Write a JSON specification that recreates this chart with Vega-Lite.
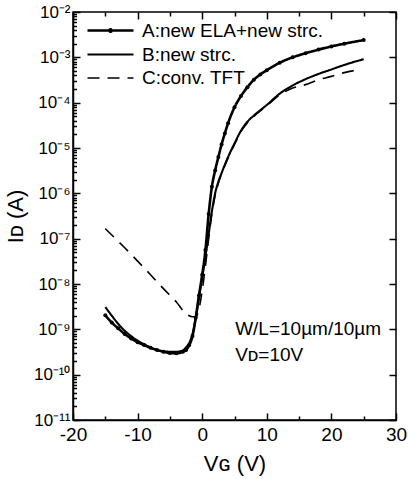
{
  "$schema": "https://vega.github.io/schema/vega-lite/v6.json",
  "width": 323,
  "height": 408,
  "autosize": "none",
  "padding": {"left": 73, "top": 12, "right": 12, "bottom": 59},
  "background": "white",
  "config": {
    "view": {"stroke": "black", "strokeWidth": 1.5},
    "font": "Liberation Sans"
  },
  "data": {
    "values": [
      {"s": "A:new ELA+new strc.", "v": -15, "i": 2.04e-9},
      {"s": "A:new ELA+new strc.", "v": -14, "i": 1.41e-9},
      {"s": "A:new ELA+new strc.", "v": -13, "i": 1.05e-9},
      {"s": "A:new ELA+new strc.", "v": -12, "i": 7.9e-10},
      {"s": "A:new ELA+new strc.", "v": -11, "i": 6.3e-10},
      {"s": "A:new ELA+new strc.", "v": -10, "i": 5.2e-10},
      {"s": "A:new ELA+new strc.", "v": -9, "i": 4.5e-10},
      {"s": "A:new ELA+new strc.", "v": -8, "i": 3.9e-10},
      {"s": "A:new ELA+new strc.", "v": -7, "i": 3.5e-10},
      {"s": "A:new ELA+new strc.", "v": -6, "i": 3.2e-10},
      {"s": "A:new ELA+new strc.", "v": -5, "i": 3.0e-10},
      {"s": "A:new ELA+new strc.", "v": -4, "i": 2.95e-10},
      {"s": "A:new ELA+new strc.", "v": -3, "i": 3.2e-10},
      {"s": "A:new ELA+new strc.", "v": -2.5, "i": 3.5e-10},
      {"s": "A:new ELA+new strc.", "v": -2, "i": 4.5e-10},
      {"s": "A:new ELA+new strc.", "v": -1.5, "i": 7.1e-10},
      {"s": "A:new ELA+new strc.", "v": -1, "i": 1.8e-9},
      {"s": "A:new ELA+new strc.", "v": -0.5, "i": 5.6e-9},
      {"s": "A:new ELA+new strc.", "v": 0, "i": 1.6e-8},
      {"s": "A:new ELA+new strc.", "v": 0.5, "i": 5.6e-8},
      {"s": "A:new ELA+new strc.", "v": 1, "i": 3.5e-7},
      {"s": "A:new ELA+new strc.", "v": 1.5, "i": 1.4e-6},
      {"s": "A:new ELA+new strc.", "v": 2, "i": 3.2e-6},
      {"s": "A:new ELA+new strc.", "v": 2.5, "i": 6.3e-6},
      {"s": "A:new ELA+new strc.", "v": 3, "i": 1.2e-5},
      {"s": "A:new ELA+new strc.", "v": 3.5, "i": 2.1e-5},
      {"s": "A:new ELA+new strc.", "v": 4, "i": 3.5e-5},
      {"s": "A:new ELA+new strc.", "v": 5, "i": 7.9e-5},
      {"s": "A:new ELA+new strc.", "v": 6, "i": 1.4e-4},
      {"s": "A:new ELA+new strc.", "v": 7, "i": 2.2e-4},
      {"s": "A:new ELA+new strc.", "v": 8, "i": 3.2e-4},
      {"s": "A:new ELA+new strc.", "v": 9, "i": 4.2e-4},
      {"s": "A:new ELA+new strc.", "v": 10, "i": 5.2e-4},
      {"s": "A:new ELA+new strc.", "v": 12, "i": 7.6e-4},
      {"s": "A:new ELA+new strc.", "v": 14, "i": 1.0e-3},
      {"s": "A:new ELA+new strc.", "v": 16, "i": 1.23e-3},
      {"s": "A:new ELA+new strc.", "v": 18, "i": 1.48e-3},
      {"s": "A:new ELA+new strc.", "v": 20, "i": 1.74e-3},
      {"s": "A:new ELA+new strc.", "v": 22, "i": 2.0e-3},
      {"s": "A:new ELA+new strc.", "v": 25, "i": 2.4e-3},
      {"s": "B:new strc.", "v": -15, "i": 3.1e-9},
      {"s": "B:new strc.", "v": -14, "i": 2.0e-9},
      {"s": "B:new strc.", "v": -13, "i": 1.32e-9},
      {"s": "B:new strc.", "v": -12, "i": 9.3e-10},
      {"s": "B:new strc.", "v": -11, "i": 7.1e-10},
      {"s": "B:new strc.", "v": -10, "i": 5.6e-10},
      {"s": "B:new strc.", "v": -9, "i": 4.7e-10},
      {"s": "B:new strc.", "v": -8, "i": 4.0e-10},
      {"s": "B:new strc.", "v": -7, "i": 3.5e-10},
      {"s": "B:new strc.", "v": -6, "i": 3.3e-10},
      {"s": "B:new strc.", "v": -5, "i": 3.2e-10},
      {"s": "B:new strc.", "v": -4, "i": 3.2e-10},
      {"s": "B:new strc.", "v": -3, "i": 3.4e-10},
      {"s": "B:new strc.", "v": -2.5, "i": 4.0e-10},
      {"s": "B:new strc.", "v": -2, "i": 5.0e-10},
      {"s": "B:new strc.", "v": -1.5, "i": 7.9e-10},
      {"s": "B:new strc.", "v": -1, "i": 1.8e-9},
      {"s": "B:new strc.", "v": -0.5, "i": 5.0e-9},
      {"s": "B:new strc.", "v": 0, "i": 1.4e-8},
      {"s": "B:new strc.", "v": 0.5, "i": 4.0e-8},
      {"s": "B:new strc.", "v": 1, "i": 1.26e-7},
      {"s": "B:new strc.", "v": 1.5, "i": 4.0e-7},
      {"s": "B:new strc.", "v": 2, "i": 1.0e-6},
      {"s": "B:new strc.", "v": 2.5, "i": 1.8e-6},
      {"s": "B:new strc.", "v": 3, "i": 2.8e-6},
      {"s": "B:new strc.", "v": 4, "i": 6.3e-6},
      {"s": "B:new strc.", "v": 5, "i": 1.26e-5},
      {"s": "B:new strc.", "v": 6, "i": 2.4e-5},
      {"s": "B:new strc.", "v": 7, "i": 3.8e-5},
      {"s": "B:new strc.", "v": 8, "i": 5.2e-5},
      {"s": "B:new strc.", "v": 10, "i": 8.9e-5},
      {"s": "B:new strc.", "v": 12, "i": 1.58e-4},
      {"s": "B:new strc.", "v": 14, "i": 2.4e-4},
      {"s": "B:new strc.", "v": 16, "i": 3.3e-4},
      {"s": "B:new strc.", "v": 18, "i": 4.3e-4},
      {"s": "B:new strc.", "v": 20, "i": 5.4e-4},
      {"s": "B:new strc.", "v": 22, "i": 6.8e-4},
      {"s": "B:new strc.", "v": 25, "i": 9.1e-4},
      {"s": "C:conv. TFT", "v": -15, "i": 1.66e-7},
      {"s": "C:conv. TFT", "v": -12, "i": 6.3e-8},
      {"s": "C:conv. TFT", "v": -10, "i": 3.2e-8},
      {"s": "C:conv. TFT", "v": -8, "i": 1.6e-8},
      {"s": "C:conv. TFT", "v": -6, "i": 7.9e-9},
      {"s": "C:conv. TFT", "v": -4, "i": 4.0e-9},
      {"s": "C:conv. TFT", "v": -2.5, "i": 2.2e-9},
      {"s": "C:conv. TFT", "v": -1.5, "i": 1.9e-9},
      {"s": "C:conv. TFT", "v": -1, "i": 1.9e-9},
      {"s": "C:conv. TFT", "v": -0.5, "i": 2.8e-9},
      {"s": "C:conv. TFT", "v": 0, "i": 7.1e-9},
      {"s": "C:conv. TFT", "v": 0.5, "i": 2.5e-8},
      {"s": "C:conv. TFT", "v": 1, "i": 1.0e-7},
      {"s": "C:conv. TFT", "v": 1.5, "i": 3.5e-7},
      {"s": "C:conv. TFT", "v": 2, "i": 8.9e-7},
      {"s": "C:conv. TFT", "v": 2.5, "i": 1.66e-6},
      {"s": "C:conv. TFT", "v": 3, "i": 2.7e-6},
      {"s": "C:conv. TFT", "v": 4, "i": 6.0e-6},
      {"s": "C:conv. TFT", "v": 5, "i": 1.2e-5},
      {"s": "C:conv. TFT", "v": 6, "i": 2.3e-5},
      {"s": "C:conv. TFT", "v": 7, "i": 3.6e-5},
      {"s": "C:conv. TFT", "v": 8, "i": 5.0e-5},
      {"s": "C:conv. TFT", "v": 10, "i": 8.5e-5},
      {"s": "C:conv. TFT", "v": 12, "i": 1.48e-4},
      {"s": "C:conv. TFT", "v": 14, "i": 2.1e-4},
      {"s": "C:conv. TFT", "v": 16, "i": 2.5e-4},
      {"s": "C:conv. TFT", "v": 18, "i": 3.2e-4},
      {"s": "C:conv. TFT", "v": 20, "i": 3.8e-4},
      {"s": "C:conv. TFT", "v": 22, "i": 4.6e-4},
      {"s": "C:conv. TFT", "v": 24.5, "i": 5.4e-4}
    ]
  },
  "resolve": {"axis": {"x": "independent", "y": "independent"}},
  "layer": [
    {
      "mark": {"type": "line", "color": "black", "interpolate": "monotone"},
      "encoding": {
        "x": {
          "field": "v", "type": "quantitative",
          "scale": {"domain": [-20, 30], "nice": false, "zero": false},
          "axis": {
            "orient": "bottom",
            "title": "Vɢ (V)",
            "titleFont": "Liberation Sans", "titleFontSize": 22, "titleFontWeight": "normal", "titleColor": "black",
            "titlePadding": 6,
            "values": [-20, -15, -10, -5, 0, 5, 10, 15, 20, 25, 30],
            "labelExpr": "datum.value % 10 == 0 ? '' + datum.value : ''",
            "labelFontSize": 19, "labelColor": "black", "labelPadding": 12, "labelFlush": false, "labelOverlap": false,
            "tickSize": {"condition": {"test": "datum.value % 10 == 0", "value": -7}, "value": -4},
            "tickColor": "black", "tickWidth": 1.5,
            "domainColor": "black", "domainWidth": 1.5, "grid": false
          }
        },
        "y": {
          "field": "i", "type": "quantitative",
          "scale": {"type": "log", "domain": [1e-11, 1e-2], "nice": false},
          "axis": {
            "orient": "left",
            "title": "Iᴅ (A)",
            "titleFont": "Liberation Sans", "titleFontSize": 22, "titleFontWeight": "normal", "titleColor": "black",
            "titlePadding": 6,
            "values": [1e-11,2e-11,3e-11,4e-11,5e-11,6e-11,7e-11,8e-11,9e-11,1e-10,2e-10,3e-10,4e-10,5e-10,6e-10,7e-10,8e-10,9e-10,1e-9,2e-9,3e-9,4e-9,5e-9,6e-9,7e-9,8e-9,9e-9,1e-8,2e-8,3e-8,4e-8,5e-8,6e-8,7e-8,8e-8,9e-8,1e-7,2e-7,3e-7,4e-7,5e-7,6e-7,7e-7,8e-7,9e-7,1e-6,2e-6,3e-6,4e-6,5e-6,6e-6,7e-6,8e-6,9e-6,1e-5,2e-5,3e-5,4e-5,5e-5,6e-5,7e-5,8e-5,9e-5,1e-4,2e-4,3e-4,4e-4,5e-4,6e-4,7e-4,8e-4,9e-4,1e-3,2e-3,3e-3,4e-3,5e-3,6e-3,7e-3,8e-3,9e-3,1e-2],
            "labelExpr": "abs(log(datum.value)/LN10 - round(log(datum.value)/LN10)) < 0.01 ? '10' + ['⁻¹¹','⁻¹⁰','⁻⁹','⁻⁸','⁻⁷','⁻⁶','⁻⁵','⁻⁴','⁻³','⁻²'][round(log(datum.value)/LN10) + 11] : ''",
            "labelFontSize": 17, "labelColor": "black", "labelPadding": 10, "labelFlush": false, "labelOverlap": false,
            "tickSize": {"condition": {"test": "abs(log(datum.value)/LN10 - round(log(datum.value)/LN10)) < 0.01", "value": -7}, "value": -3.5},
            "tickColor": "black", "tickWidth": 1.5,
            "domainColor": "black", "domainWidth": 1.5, "grid": false
          }
        },
        "strokeDash": {
          "field": "s", "type": "nominal",
          "scale": {"domain": ["A:new ELA+new strc.", "B:new strc.", "C:conv. TFT"], "range": [[1, 0], [1, 0], [12, 8]]},
          "legend": {
            "orient": "none", "legendX": 26, "legendY": 7,
            "title": null, "symbolType": "M-2.3,0H2.3", "symbolSize": 400,
            "symbolStrokeColor": "black", "symbolStrokeWidth": 1.6, "symbolFillColor": "black",
            "labelFontSize": 19, "labelColor": "black", "labelOffset": 20, "labelLimit": 400,
            "rowPadding": 2,
            "encode": {
              "symbols": {
                "update": {
                  "shape": {"signal": "datum.value == 'A:new ELA+new strc.' ? 'M-2.3,0H2.3M-0.12,0A0.12,0.12 0 1,0 0.12,0A0.12,0.12 0 1,0 -0.12,0Z' : 'M-2.3,0H2.3'"},
                  "fill": {"value": "black"},
                  "stroke": {"value": "black"},
                  "strokeWidth": {"value": 1.6},
                  "strokeDash": {"signal": "datum.value == 'C:conv. TFT' ? [8, 7] : [1, 0]"},
                  "opacity": {"value": 1},
                  "strokeOpacity": {"value": 1}
                }
              }
            }
          }
        },
        "strokeWidth": {
          "field": "s", "type": "nominal",
          "scale": {"domain": ["A:new ELA+new strc.", "B:new strc.", "C:conv. TFT"], "range": [2.6, 1.6, 2]},
          "legend": null
        }
      }
    },
    {
      "transform": [{"filter": {"field": "s", "equal": "A:new ELA+new strc."}}],
      "mark": {"type": "point", "filled": true, "color": "black", "size": 16, "opacity": 1},
      "encoding": {
        "x": {
          "field": "v", "type": "quantitative",
          "axis": {"orient": "top", "title": null, "labels": false, "domain": false, "grid": false,
            "values": [-20, -15, -10, -5, 0, 5, 10, 15, 20, 25, 30],
            "tickSize": {"condition": {"test": "datum.value % 10 == 0", "value": -7}, "value": -4},
            "tickColor": "black", "tickWidth": 1.5}
        },
        "y": {
          "field": "i", "type": "quantitative",
          "axis": {"orient": "right", "title": null, "labels": false, "domain": false, "grid": false,
            "values": [1e-11,1e-10,1e-9,1e-8,1e-7,1e-6,1e-5,1e-4,1e-3,1e-2],
            "tickSize": -7, "tickColor": "black", "tickWidth": 1.5}
        }
      }
    },
    {
      "data": {"values": [{}]},
      "mark": {"type": "text", "align": "left", "baseline": "middle", "fontSize": 19, "font": "Liberation Sans", "color": "black", "text": "W/L=10µm/10µm"},
      "encoding": {"x": {"datum": 5.1, "axis": null}, "y": {"datum": 1.0e-9, "axis": null}}
    },
    {
      "data": {"values": [{}]},
      "mark": {"type": "text", "align": "left", "baseline": "middle", "fontSize": 19, "font": "Liberation Sans", "color": "black", "text": "Vᴅ=10V"},
      "encoding": {"x": {"datum": 5.1, "axis": null}, "y": {"datum": 2.7e-10, "axis": null}}
    }
  ]
}
